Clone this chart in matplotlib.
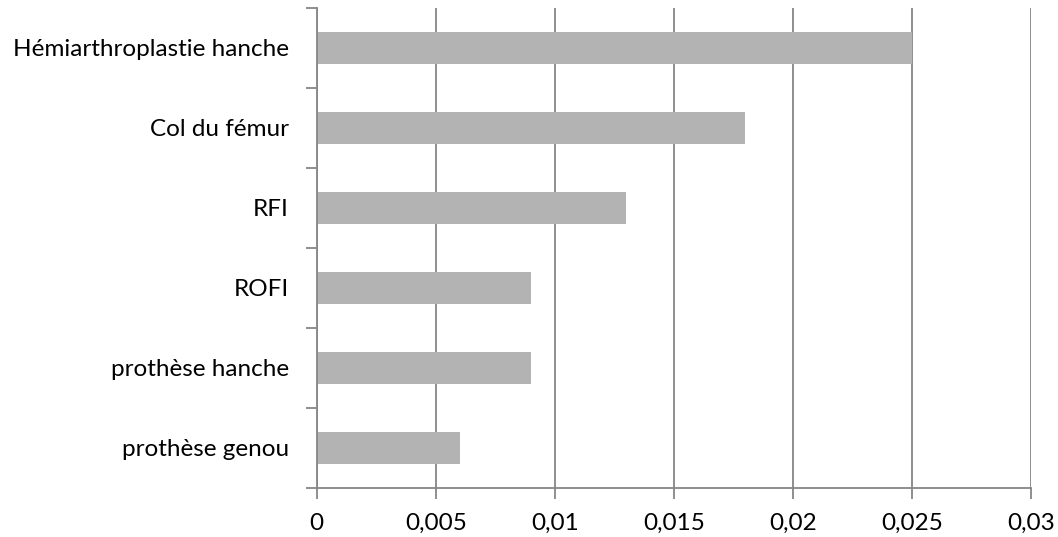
import matplotlib
matplotlib.use("Agg")
import matplotlib.pyplot as plt
from matplotlib.ticker import FuncFormatter, FixedLocator

categories = ["prothèse genou", "prothèse hanche", "ROFI", "RFI",
              "Col du fémur", "Hémiarthroplastie hanche"]
values = [0.006, 0.009, 0.009, 0.013, 0.018, 0.025]
xticks = [0, 0.005, 0.01, 0.015, 0.02, 0.025, 0.03]
xtick_labels = ["0", "0,005", "0,01", "0,015", "0,02", "0,025", "0,03"]

plt.rcParams["font.family"] = ["Lato", "DejaVu Sans"]
axis_grey = "#868686"

fig = plt.figure(figsize=(10.58, 5.37), dpi=100)
ax = fig.add_axes([316.7 / 1058, (537 - 488) / 537, (1030.7 - 316.7) / 1058, (488 - 8) / 537])

pos = list(range(len(categories)))
ax.barh(pos, values, height=0.39, color="#b3b3b3", zorder=3)

ax.set_xlim(0, 0.03)
ax.set_ylim(-0.5, len(categories) - 0.5)
ax.set_xticks(xticks)
ax.set_xticklabels(xtick_labels)

# category labels centred in slots, tick marks on slot boundaries
ax.yaxis.set_major_locator(FixedLocator([p - 0.5 for p in pos] + [len(pos) - 0.5]))
ax.yaxis.set_major_formatter(FuncFormatter(lambda v, i: ""))
ax.set_yticks(pos, minor=True)
ax.set_yticklabels(categories, minor=True)
ax.tick_params(axis="y", which="minor", length=0, pad=20, labelsize=17.5)
ax.tick_params(axis="y", which="major", length=8, width=1.3, color=axis_grey, direction="out")
ax.tick_params(axis="x", length=8, width=1.3, color=axis_grey, direction="out", pad=10, labelsize=17.5)

ax.grid(axis="x", color=axis_grey, linewidth=1.3, zorder=0)
for s in ["top", "right"]:
    ax.spines[s].set_visible(False)
for s in ["left", "bottom"]:
    ax.spines[s].set_color(axis_grey)
    ax.spines[s].set_linewidth(1.3)
    ax.spines[s].set_zorder(4)

fig.savefig("out.png", dpi=100)
